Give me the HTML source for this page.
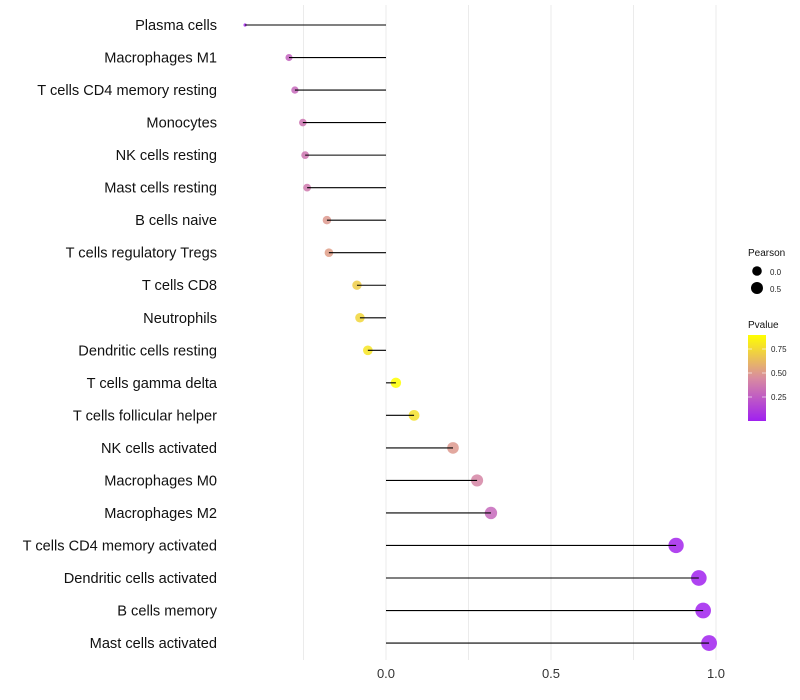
<!DOCTYPE html>
<html><head><meta charset="utf-8"><style>
body{margin:0;background:#fff;font-family:"Liberation Sans",sans-serif}
</style></head><body>
<svg id="c" width="800" height="700" style="display:block">
<defs>
<linearGradient id="pg" x1="0" y1="1" x2="0" y2="0">
<stop offset="0" stop-color="#a020f0"/><stop offset="0.5" stop-color="#d98ca0"/><stop offset="1" stop-color="#ffff00"/>
</linearGradient>
</defs>
<g id="grid"></g><g id="marks"></g><g id="labels"></g>
<g>
<text x="748" y="256" font-size="10" fill="#111">Pearson</text>
<circle cx="757" cy="271" r="4.8" fill="#000"/>
<text x="770" y="275" font-size="8" fill="#222">0.0</text>
<circle cx="757" cy="288" r="6" fill="#000"/>
<text x="770" y="292" font-size="8" fill="#222">0.5</text>
<text x="748" y="328" font-size="10" fill="#111">Pvalue</text>
<rect x="748" y="335" width="18" height="86" fill="url(#pg)"/>
<g stroke="#fff" stroke-opacity="0.6"><line x1="748" y1="349" x2="752" y2="349"/><line x1="762" y1="349" x2="766" y2="349"/><line x1="748" y1="373" x2="752" y2="373"/><line x1="762" y1="373" x2="766" y2="373"/><line x1="748" y1="397" x2="752" y2="397"/><line x1="762" y1="397" x2="766" y2="397"/></g>
<text x="771" y="352" font-size="8" fill="#222">0.75</text>
<text x="771" y="376" font-size="8" fill="#222">0.50</text>
<text x="771" y="400" font-size="8" fill="#222">0.25</text>
</g>
</svg>
<script>
const categories=["Plasma cells","Macrophages M1","T cells CD4 memory resting","Monocytes","NK cells resting","Mast cells resting","B cells naive","T cells regulatory  Tregs","T cells CD8","Neutrophils","Dendritic cells resting","T cells gamma delta","T cells follicular helper","NK cells activated","Macrophages M0","Macrophages M2","T cells CD4 memory activated","Dendritic cells activated","B cells memory","Mast cells activated"];
const pearson=[-0.427,-0.294,-0.276,-0.252,-0.245,-0.239,-0.179,-0.173,-0.088,-0.079,-0.055,0.030,0.085,0.203,0.276,0.318,0.879,0.948,0.961,0.979];
const pvalues=[0.03,0.28,0.30,0.35,0.36,0.37,0.50,0.52,0.70,0.74,0.80,0.90,0.78,0.50,0.42,0.30,0.02,0.01,0.01,0.01];
const xTicks=[0,0.5,1.0];
const xTickLabels=["0.0","0.5","1.0"];
const NS="http://www.w3.org/2000/svg";
const x=v=>386+v*330;
const y=i=>25+i*32.53;
const pmin=Math.min(...pearson),pmax=Math.max(...pearson);
const rad=v=>1.6+6.3*Math.sqrt((v-pmin)/(pmax-pmin));
function col(p){const t=Math.max(0,Math.min(1,p/0.9));const a=[160,32,240],b=[217,140,160],c=[255,255,0];let s,e,u;if(t<0.5){s=a;e=b;u=t/0.5}else{s=b;e=c;u=(t-0.5)/0.5}return `rgb(${s.map((q,k)=>Math.round(q+(e[k]-q)*u)).join(",")})`;}
function mk(tag,at,parent){const el=document.createElementNS(NS,tag);for(const k in at)el.setAttribute(k,at[k]);parent.appendChild(el);return el;}
const grid=document.getElementById("grid"),marks=document.getElementById("marks"),labels=document.getElementById("labels");
for(let g=-0.25;g<=1.01;g+=0.25){const l=mk("line",{x1:x(g),x2:x(g),y1:5,y2:660,stroke:"#ebebeb","stroke-width":1},grid);

}
xTicks.forEach((t,i)=>{const tx=mk("text",{x:x(t),y:678,"font-size":13,"text-anchor":"middle",fill:"#333"},labels);tx.textContent=xTickLabels[i];

});
categories.forEach((c,i)=>{
const tx=mk("text",{x:217,y:y(i)+5,"font-size":14.6,"text-anchor":"end",fill:"#111"},labels);tx.textContent=c;


const d=mk("circle",{cx:x(pearson[i]),cy:y(i),r:rad(pearson[i]),fill:col(pvalues[i]),"fill-opacity":0.85},marks);


const ln=mk("line",{x1:x(0),x2:x(pearson[i]),y1:y(i),y2:y(i),stroke:"#000","stroke-width":1.1},marks);


});
</script>
</body></html>
